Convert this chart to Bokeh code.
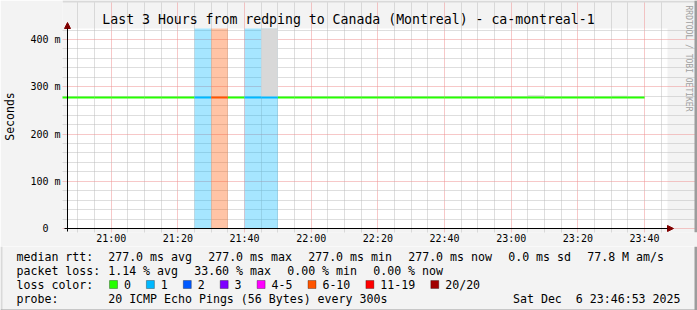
from datetime import datetime
import math
from bokeh.plotting import figure
from bokeh.layouts import column
from bokeh.models import (FixedTicker, DatetimeTickFormatter, Range1d, Label,
                          BoxAnnotation, Arrow, NormalHead, ColumnDataSource)
from bokeh.embed import file_html
from bokeh.resources import INLINE

# ---------------- data ----------------
TITLE = "Last 3 Hours from redping to Canada (Montreal) - ca-montreal-1"
Y_LABEL = "Seconds"
WATERMARK = "RRDTOOL / TOBI OETIKER"
VIEW_START = "20:46:53"
VIEW_END = "23:46:53"

INTERVALS = ["20:45", "20:50", "20:55", "21:00", "21:05", "21:10", "21:15",
             "21:20", "21:25", "21:30", "21:35", "21:40", "21:45", "21:50",
             "21:55", "22:00", "22:05", "22:10", "22:15", "22:20", "22:25",
             "22:30", "22:35", "22:40", "22:45", "22:50", "22:55", "23:00",
             "23:05", "23:10", "23:15", "23:20", "23:25", "23:30", "23:35"]
STEP_MIN = 5
MEDIAN_MS = [277.0, 277.0, 277.0, 277.0, 277.0, 277.0, 277.0,
             277.0, 277.0, 277.0, 277.0, 277.0, 277.0, 277.0,
             277.0, 277.0, 277.0, 277.0, 277.0, 277.0, 277.0,
             277.0, 277.0, 277.0, 277.0, 277.0, 277.0, 277.0,
             277.0, 277.0, 277.0, 277.0, 277.0, 277.0, 277.0]
LOSS_PINGS = [0, 0, 0, 0, 0, 0, 0,
              0, 1, 7, 0, 1, 1, 0,
              0, 0, 0, 0, 0, 0, 0,
              0, 0, 0, 0, 0, 0, 0,
              0, 0, 0, 0, 0, 0, 0]
SMOKE_LO_MS = [277.0, 277.0, 277.0, 277.0, 277.0, 277.0, 277.0,
               277.0, 277.0, 277.0, 277.0, 277.0, 277.0, 277.0,
               277.0, 277.0, 277.0, 277.0, 277.0, 277.0, 277.0,
               277.0, 277.0, 277.0, 277.0, 277.0, 277.0, 277.0,
               277.0, 277.0, 277.0, 277.0, 277.0, 277.0, 277.0]
SMOKE_HI_MS = [277.0, 277.0, 277.0, 277.0, 277.0, 277.0, 277.0,
               277.0, 277.0, 277.0, 277.0, 277.0, 1500.0, 277.0,
               277.0, 277.0, 277.0, 277.0, 277.0, 277.0, 277.0,
               277.0, 277.0, 277.0, 277.0, 277.0, 277.0, 277.0,
               282.0, 277.0, 277.0, 277.0, 277.0, 281.0, 277.0]

Y_MAX = 423.3
Y_TICKS = [0, 100, 200, 300, 400]
Y_TICK_LABELS = ["0\u00a0\u00a0", "100 m", "200 m", "300 m", "400 m"]
Y_MINOR_STEP = 20
X_TICKS = ["21:00", "21:20", "21:40", "22:00", "22:20", "22:40", "23:00", "23:20", "23:40"]
X_MINOR_STEP_MIN = 5

LOSS_LABELS = ["0", "1", "2", "3", "4-5", "6-10", "11-19", "20/20"]
LOSS_MAX = [0, 1, 2, 3, 5, 10, 19, 20]
LOSS_COLORS = ["#26ff00", "#00b8ff", "#0059ff", "#7e00ff", "#ff00ff", "#ff5500", "#ff0000", "#a10000"]

LEGEND_RTT = ["median rtt:", "277.0 ms avg", "277.0 ms max", "277.0 ms min",
              "277.0 ms now", "0.0 ms sd", "77.8 M am/s"]
LEGEND_LOSS = ["packet loss:", "1.14 % avg", "33.60 % max", "0.00 % min", "0.00 % now"]
LEGEND_COLOR = "loss color:"
LEGEND_PROBE = ["probe:", "20 ICMP Echo Pings (56 Bytes) every 300s"]
STAMP = "Sat Dec  6 23:46:53 2025"

# ---------------- helpers ----------------
EPOCH = datetime(1970, 1, 1)
def ms(hm_s):
    parts = hm_s.split(":")
    h, m = int(parts[0]), int(parts[1])
    s = int(parts[2]) if len(parts) > 2 else 0
    return (datetime(2025, 12, 6, h, m, s) - EPOCH).total_seconds() * 1000.0

def loss_color(n):
    for mx, c in zip(LOSS_MAX, LOSS_COLORS):
        if n <= mx:
            return c
    return LOSS_COLORS[-1]

def keep_spaces(s):
    # keep runs of spaces visible in SVG text
    return s.replace("  ", "\u00a0 ")

MONO = "DejaVu Sans Mono"
BG = "#f3f3f3"
LIGHT_EDGE = "#d9d9d9"
DARK_EDGE = "#9c9c9c"
W, H = 697, 310
MAIN_H = 244

# plot area in canvas pixels
PL, PT, PR, PB = 67, 28, 667, 228
# main figure frame in canvas pixels
FL, FT, FR, FB = 62, 0, W, 232

x0 = ms(VIEW_START)
x1 = ms(VIEW_END)
mpp = (x1 - x0) / (PR - PL)
ypp = Y_MAX / (PB - PT)
t_left = [ms(t) for t in INTERVALS]
t_right = [t + STEP_MIN * 60000 for t in t_left]

p = figure(frame_width=FR - FL, frame_height=FB - FT, x_axis_type="datetime",
           x_range=Range1d(x0 - (PL - FL) * mpp, x1 + (FR - PR) * mpp),
           y_range=Range1d(0 - (FB - PB) * ypp, Y_MAX + (PT - FT) * ypp),
           output_backend="svg", toolbar_location=None,
           min_border_left=FL, min_border_right=0, min_border_top=0,
           min_border_bottom=MAIN_H - FB,
           background_fill_color=BG, border_fill_color=BG,
           outline_line_color=None)

# white plotting area
p.quad(left=[x0], right=[x1], bottom=[0], top=[Y_MAX], fill_color="white",
       line_color=None, level="image")

# ticks / grids
xt = [ms(t) for t in X_TICKS]
xminor = []
t = ms("20:50")
while t < x1:
    if t not in xt:
        xminor.append(t)
    t += X_MINOR_STEP_MIN * 60000
p.xaxis.ticker = FixedTicker(ticks=xt, minor_ticks=xminor)
p.xaxis.formatter = DatetimeTickFormatter(
    milliseconds="%H:%M", seconds="%H:%M", minsec="%H:%M", minutes="%H:%M",
    hourmin="%H:%M", hours="%H:%M", days="%H:%M", months="%H:%M", years="%H:%M")
yminor = [v for v in range(Y_MINOR_STEP, int(Y_MAX), Y_MINOR_STEP) if v not in Y_TICKS]
p.yaxis.ticker = FixedTicker(ticks=Y_TICKS, minor_ticks=yminor)
p.yaxis.major_label_overrides = {k: v for k, v in zip(Y_TICKS, Y_TICK_LABELS)}

for ax in (p.xaxis[0], p.yaxis[0]):
    ax.axis_line_color = None
    ax.major_tick_line_color = None
    ax.minor_tick_line_color = None
    ax.major_tick_out = 0
    ax.major_tick_in = 0
    ax.minor_tick_out = 0
    ax.minor_tick_in = 0
    ax.major_label_text_font = MONO
    ax.major_label_text_font_size = "10px"
    ax.major_label_text_color = "#000000"
p.xaxis.major_label_standoff = 0
p.yaxis.major_label_standoff = 2
p.yaxis.axis_label = Y_LABEL
p.yaxis.axis_label_text_font = MONO
p.yaxis.axis_label_text_font_size = "11.5px"
p.yaxis.axis_label_text_font_style = "normal"
p.yaxis.axis_label_text_color = "#000000"
p.yaxis.axis_label_standoff = 10

p.xgrid.bounds = (0, Y_MAX)
p.ygrid.bounds = (x0, x1)
for g in (p.xgrid[0], p.ygrid[0]):
    g.grid_line_color = "#ee9090"
    g.grid_line_dash = "1 1"
    g.grid_line_width = 1
    g.minor_grid_line_color = "#bdbdbd"
    g.minor_grid_line_dash = "1 1"
    g.minor_grid_line_width = 1

# loss background bands
band = {"l": [], "r": [], "c": []}
for l, r, n in zip(t_left, t_right, LOSS_PINGS):
    if n > 0:
        band["l"].append(l); band["r"].append(r); band["c"].append(loss_color(n))
p.quad(left="l", right="r", bottom=0, top=Y_MAX, fill_color="c", fill_alpha=0.35,
       line_color=None, source=ColumnDataSource(band))

# smoke
smoke = {"l": [], "r": [], "b": [], "t": []}
for l, r, lo, hi in zip(t_left, t_right, SMOKE_LO_MS, SMOKE_HI_MS):
    if hi > lo:
        smoke["l"].append(l); smoke["r"].append(r)
        smoke["b"].append(lo); smoke["t"].append(min(hi, Y_MAX))
p.quad(left="l", right="r", bottom="b", top="t", fill_color="#d8d8d8",
       line_color=None, source=ColumnDataSource(smoke))

# median line coloured by loss
seg = ColumnDataSource(dict(x0=t_left, x1=t_right, y=MEDIAN_MS,
                            c=[loss_color(n) for n in LOSS_PINGS]))
p.segment(x0="x0", y0="y", x1="x1", y1="y", line_color="c", line_width=2, source=seg)

# axes with arrows
HEAD = "#800000"
p.add_layout(Arrow(x_start=x0 - 3 * mpp, y_start=0, x_end=x1 + 6 * mpp, y_end=0,
                   line_color="black", line_width=1,
                   end=NormalHead(size=6, fill_color=HEAD, line_color=HEAD)))
p.add_layout(Arrow(x_start=x0, y_start=-3 * ypp, x_end=x0, y_end=Y_MAX + 6 * ypp,
                   line_color="black", line_width=1,
                   end=NormalHead(size=6, fill_color=HEAD, line_color=HEAD)))

SCR = dict(left_units="screen", right_units="screen", top_units="screen", bottom_units="screen")

def make_tools(fig, fl, fb):
    def box(x_a, x_b, y_a, y_b, fill, line=None):
        fig.add_layout(BoxAnnotation(left=x_a - fl, right=x_b - fl, top=fb - y_a, bottom=fb - y_b,
                                     fill_color=fill, fill_alpha=1, line_color=line,
                                     line_width=1, **SCR))
    def text(x, y, s, size="11.6px", align="left", color="#000000", angle=0.0):
        fig.add_layout(Label(x=x - fl, y=fb - y, x_units="screen", y_units="screen",
                             text=keep_spaces(s),
                             text_font=MONO, text_font_size=size, text_color=color,
                             text_align=align, text_baseline="middle", angle=angle))
    return box, text

box_m, text_m = make_tools(p, FL, FB)
box_m(FL, W, 0, 2, LIGHT_EDGE)
box_m(W - 3, W, 0, FB, DARK_EDGE)
text_m(348, 19, TITLE, size="13.2px", align="center")
text_m(688, 58, WATERMARK, size="8px", align="center", color="#a0a0a0", angle=-math.pi / 2)

# ---------------- legend strip (below) ----------------
LH = H - MAIN_H
q = figure(width=W, height=LH, x_range=Range1d(0, W), y_range=Range1d(0, LH),
           output_backend="svg", toolbar_location=None, min_border=0,
           background_fill_color=BG, border_fill_color=BG, outline_line_color=None,
           x_axis_location=None, y_axis_location=None)
q.grid.visible = False
for fig in (p, q):
    try:
        fig.frame_align = False
    except Exception:
        pass

box_l, text_l = make_tools(q, 0, H)
box_l(0, 2, MAIN_H, H, LIGHT_EDGE)
box_l(W - 3, W, MAIN_H, H, DARK_EDGE)
box_l(0, W, H - 3, H, DARK_EDGE)

PITCH = 7.0
GAP = 16.0
COL0, COL1 = 16, 107.7
ROWS = [254, 268, 282, 296]

def row(items, y):
    text_l(COL0, y, items[0])
    x = COL1
    for s in items[1:]:
        text_l(x, y, s)
        x += len(s) * PITCH + GAP

row(LEGEND_RTT, ROWS[0])
row(LEGEND_LOSS, ROWS[1])
text_l(COL0, ROWS[2], LEGEND_COLOR)
bx = COL1 + 1.3
for lab, col in zip(LOSS_LABELS, LOSS_COLORS):
    box_l(bx, bx + 8, 278, 286, col, line="black")
    lx = bx + 14.4
    text_l(lx, ROWS[2], lab)
    bx = lx + len(lab) * PITCH + 15.5
row(LEGEND_PROBE, ROWS[3])
text_l(680, ROWS[3], STAMP, align="right")

layout = column(p, q, spacing=0)
open("out.html", "w").write(file_html(layout, INLINE))
